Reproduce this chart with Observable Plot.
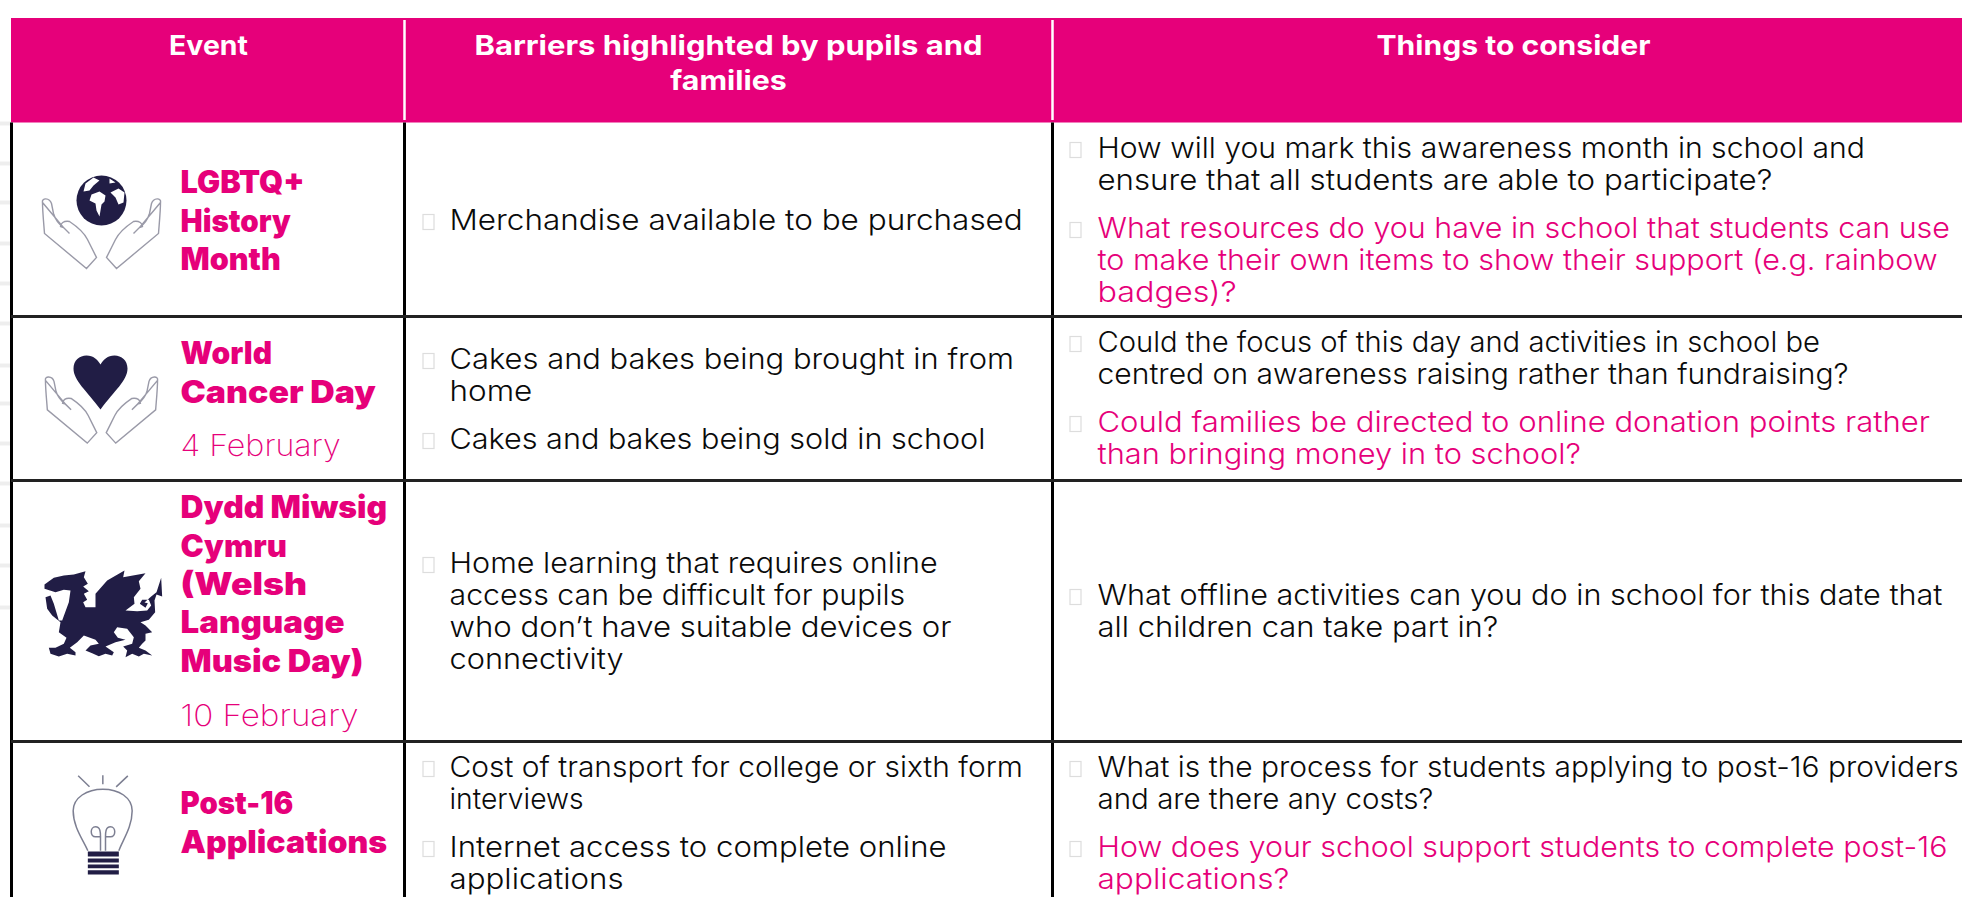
<!DOCTYPE html>
<html><head><meta charset="utf-8">
<script src="https://cdn.jsdelivr.net/npm/d3@7"></script>
<script src="https://cdn.jsdelivr.net/npm/@observablehq/plot@0.6"></script>
<style>html,body{margin:0;background:#fff}svg{display:block}</style></head>
<body><div id="c"></div><script>
const headers=[["Event"],["Barriers highlighted by pupils and","families"],["Things to consider"]];
const eventNames=[["LGBTQ+","History","Month"],["World","Cancer Day"],["Dydd Miwsig","Cymru","(Welsh","Language","Music Day)"],["Post-16","Applications"]];
const eventDates=[null,"4 February","10 February",null];
const barriers=[
 [["Merchandise available to be purchased"]],
 [["Cakes and bakes being brought in from","home"],["Cakes and bakes being sold in school"]],
 [["Home learning that requires online","access can be difficult for pupils","who don’t have suitable devices or","connectivity"]],
 [["Cost of transport for college or sixth form","interviews"],["Internet access to complete online","applications"]]];
const considerations=[
 [["How will you mark this awareness month in school and","ensure that all students are able to participate?"],["What resources do you have in school that students can use","to make their own items to show their support (e.g. rainbow","badges)?"]],
 [["Could the focus of this day and activities in school be","centred on awareness raising rather than fundraising?"],["Could families be directed to online donation points rather","than bringing money in to school?"]],
 [["What offline activities can you do in school for this date that","all children can take part in?"]],
 [["What is the process for students applying to post-16 providers","and are there any costs?"],["How does your school support students to complete post-16","applications?"]]];

// layout (separate from the content above)
const W=1962,H=897,PINK="#e6007a",INK="#0a0a0a",NAVY="#211d45",HAND="#9a9aa8";
const REF=1962/1568;
const colEdges=[11,404,1052,W];
const rowEdges=[122,316,480,741,H];
const headCenters=[208,728,1513];
const barrierStart=[220.5,359.5,563.5,767.5], considerStart=[148.5,342.5,595.5,767.5];
const eventStart=[183,354,508,804], dateY=[null,446,716,null];
const TX2=449,TX3=1097,EX=180;
const stubs=[123,163,202,243,283,323,365,403,443,483,525,565,607];
// right ends of each text line, in order of appearance
const endsBarrier=[817,810,425,787,749,723,760,498,817,466,756,498];
const endsConsider=[1490,1416,1558,1548,988,1454,1477,1542,1263,1552,1197,1565,1145,1556,1030];
const endsEvent=[243,232,224,217,300,309,229,245,275,290,234,309];
const endsDate=[272,286];
const headWidths=[63,406,93,219];

function cellLines(cells,starts,x,bx,pinkSecond){
  const out=[];
  cells.forEach((paras,r)=>{let y=starts[r];
    paras.forEach((lines,p)=>{
      lines.forEach((t,i)=>{out.push({t,x,y,pink:pinkSecond&&p===1,bullet:i===0,bx});y+=32;});
      y+=16;});});
  return out;
}
const bLines=cellLines(barriers,barrierStart,TX2,423,false);
const cLines=cellLines(considerations,considerStart,TX3,1070,true);
const allLines=[...bLines,...cLines];
const evLines=eventNames.flatMap((ls,r)=>ls.map((t,i)=>({t,y:eventStart[r]+i*38.3})));
const dates=eventDates.map((t,r)=>({t,y:dateY[r]})).filter(d=>d.t);
const headLines=headers.flatMap((ls,c)=>ls.map((t,i)=>({t,x:headCenters[c],y:46+i*35})));

function pathSym(d,ox=0,oy=0,s=1){ // custom Plot symbol from a path string
  const toks=d.match(/[MLCQZ]|-?[\d.]+/g);
  return {draw(ctx,size){
    const k=Math.sqrt(size/Math.PI)/100*s;let i=0;
    const nx=()=>(+toks[i++]-ox)*k,ny=()=>(+toks[i++]-oy)*k;
    while(i<toks.length){const c=toks[i++];
      if(c==="M")ctx.moveTo(nx(),ny());
      else if(c==="L")ctx.lineTo(nx(),ny());
      else if(c==="C")ctx.bezierCurveTo(nx(),ny(),nx(),ny(),nx(),ny());
      else if(c==="Z")ctx.closePath();
    }}};
}
const handL="M-59 2C-60 -3 -52 -3 -50 3L-48 13C-46 20 -42 24 -38 27L-32 33M-38 27L-41 26C-41 23 -38 20 -32 21C-26 25 -18 31 -14 39L-10 47L-5 57L-15 68L-57 33C-58 20 -59 10 -59 2Z";
const handR="M59 2C60 -3 52 -3 50 3L48 13C46 20 42 24 38 27L32 33M38 27L41 26C41 23 38 20 32 21C26 25 18 31 14 39L10 47L5 57L15 68L57 33C58 20 59 10 59 2Z";
const heart="M0 27C-14 8 -27 -2 -27 -14C-27 -22 -21 -27 -14 -27C-7 -27 -3 -23 0 -18C3 -23 7 -27 14 -27C21 -27 27 -22 27 -14C27 -2 14 8 0 27Z";
const land="M-16 -17L-8 -23L-2 -20L-8 -15L-12 -10L-18 -9ZM-10 -6L-2 -9L4 -5L3 1L0 4L-2 16L-5 10L-6 3L-12 0ZM8 -22L14 -18L8 -17ZM9 -8L17 -12L23 -8L22 2L17 4L14 -3Z";
const dragon="M42 72L70 52L100 45L130 42L165 32L160 50L172 70L158 78L175 92L160 100L170 118L158 125L165 140L195 140L195 100L230 60L282 30L278 50L345 38L325 62L330 85L310 110L312 130L285 150L320 152L350 150L362 135L355 118L335 118L328 130L345 142L352 128L342 126L362 108L378 95L392 52L395 108L378 102L372 120L374 155L355 178L330 185L345 195L365 215L345 220L345 240L335 250L325 262L345 270L365 285L340 280L325 288L305 280L285 290L290 270L278 258L305 250L310 230L290 205L260 200L250 215L262 232L285 238L255 245L225 258L250 275L245 285L225 280L205 287L185 278L165 270L180 255L205 250L195 238L160 225L140 245L118 262L135 275L135 285L110 280L85 288L60 280L55 262L75 262L100 250L108 232L85 215L90 185L65 165L50 145L45 110L60 105L70 130L85 180L95 180L115 125L120 90L100 88L75 95L42 85Z";
const bulbOutline="M112 270C100 240 68 200 68 150C68 110 110 85 157 85C205 85 245 110 245 150C245 200 215 240 205 270M150 270L150 228L135 228C118 228 118 198 135 198C150 198 150 215 150 228M165 270L165 228L180 228C197 228 197 198 180 198C165 198 165 215 165 228M83 45L117 78M157 43L157 70M232 45L197 78";
const bulbBase="M112 272L205 272L205 287L112 287ZM112 293L205 293L205 305L112 305ZM112 311L205 311L205 322L112 322ZM112 328L205 328L205 341L112 341Z";

const iconMark=(x,y,r,sym,opts)=>Plot.dot([{x,y}],{x:"x",y:"y",r,symbol:sym,...opts});
const chart=Plot.plot({width:W,height:H,margin:0,
  x:{domain:[0,W],range:[0,W],axis:null},y:{domain:[0,H],range:[0,H],axis:null},
  marks:[
    Plot.ruleY(stubs,{x1:0,x2:11,stroke:"#eeeeee",strokeWidth:4}),
    Plot.rect([0],{x1:11,x2:W,y1:18,y2:122.5,fill:PINK}),
    Plot.ruleX(colEdges.slice(1,3),{y1:20,y2:120,stroke:"#fff",strokeWidth:2.5}),
    Plot.ruleX(colEdges.slice(0,3),{y1:122.5,y2:H,stroke:"#000",strokeWidth:3}),
    Plot.ruleY(rowEdges.slice(1,4),{x1:11,x2:W,stroke:"#222",strokeWidth:3}),
    Plot.text(headLines,{x:"x",y:"y",text:"t",fill:"#fff",fontSize:27,fontFamily:"Inter",fontWeight:700,lineAnchor:"middle"}),
    Plot.text(evLines,{x:EX,y:"y",text:"t",fill:PINK,fontSize:31,fontFamily:"Inter",fontWeight:900,textAnchor:"start",lineAnchor:"middle"}),
    Plot.text(dates,{x:EX,y:"y",text:"t",fill:PINK,fontSize:30,fontFamily:"Inter",fontWeight:200,textAnchor:"start",lineAnchor:"middle"}),
    Plot.text(allLines,{x:"x",y:"y",text:"t",fill:d=>d.pink?PINK:INK,fontSize:28.5,fontFamily:"Inter",fontWeight:300,textAnchor:"start",lineAnchor:"middle"}),
    Plot.rect(allLines.filter(d=>d.bullet),{x1:d=>d.bx,x2:d=>d.bx+11,y1:d=>d.y-6,y2:d=>d.y+9,stroke:"#ddd",fill:"none",strokeWidth:1.2}),
    iconMark(101,200,100,pathSym(handL),{stroke:HAND,fill:"none",strokeWidth:1.4}),
    iconMark(101,200,100,pathSym(handR),{stroke:HAND,fill:"none",strokeWidth:1.4}),
    iconMark(101,200,25,"circle",{fill:NAVY}),
    iconMark(101,200,100,pathSym(land),{fill:"#fff"}),
    iconMark(101,378,95,pathSym(handL),{stroke:HAND,fill:"none",strokeWidth:1.4}),
    iconMark(101,378,95,pathSym(handR),{stroke:HAND,fill:"none",strokeWidth:1.4}),
    iconMark(100,382,100,pathSym(heart),{fill:NAVY}),
    iconMark(103,613,100,pathSym(dragon,219,159,1/3),{fill:NAVY}),
    iconMark(103,827,100,pathSym(bulbOutline,159,200,1/3),{stroke:"#7d7f92",fill:"none",strokeWidth:1.5}),
    iconMark(103,827,100,pathSym(bulbBase,159,200,1/3),{fill:NAVY})
  ]});
document.getElementById("c").append(chart);

// stretch each text line to the width it has in the reference
const groups=chart.querySelectorAll('g[aria-label="text"]');
const fit=(g,widths)=>g.querySelectorAll("text").forEach((el,i)=>{
  el.setAttribute("textLength",widths[i].toFixed(1));
  el.setAttribute("lengthAdjust","spacingAndGlyphs");
});
fit(groups[0],headWidths.map(v=>v*REF));
fit(groups[1],endsEvent.map(v=>v*REF-EX));
fit(groups[2],endsDate.map(v=>v*REF-EX));
fit(groups[3],[...endsBarrier.map(v=>v*REF-TX2),...endsConsider.map(v=>v*REF-TX3)]);
</script></body></html>
